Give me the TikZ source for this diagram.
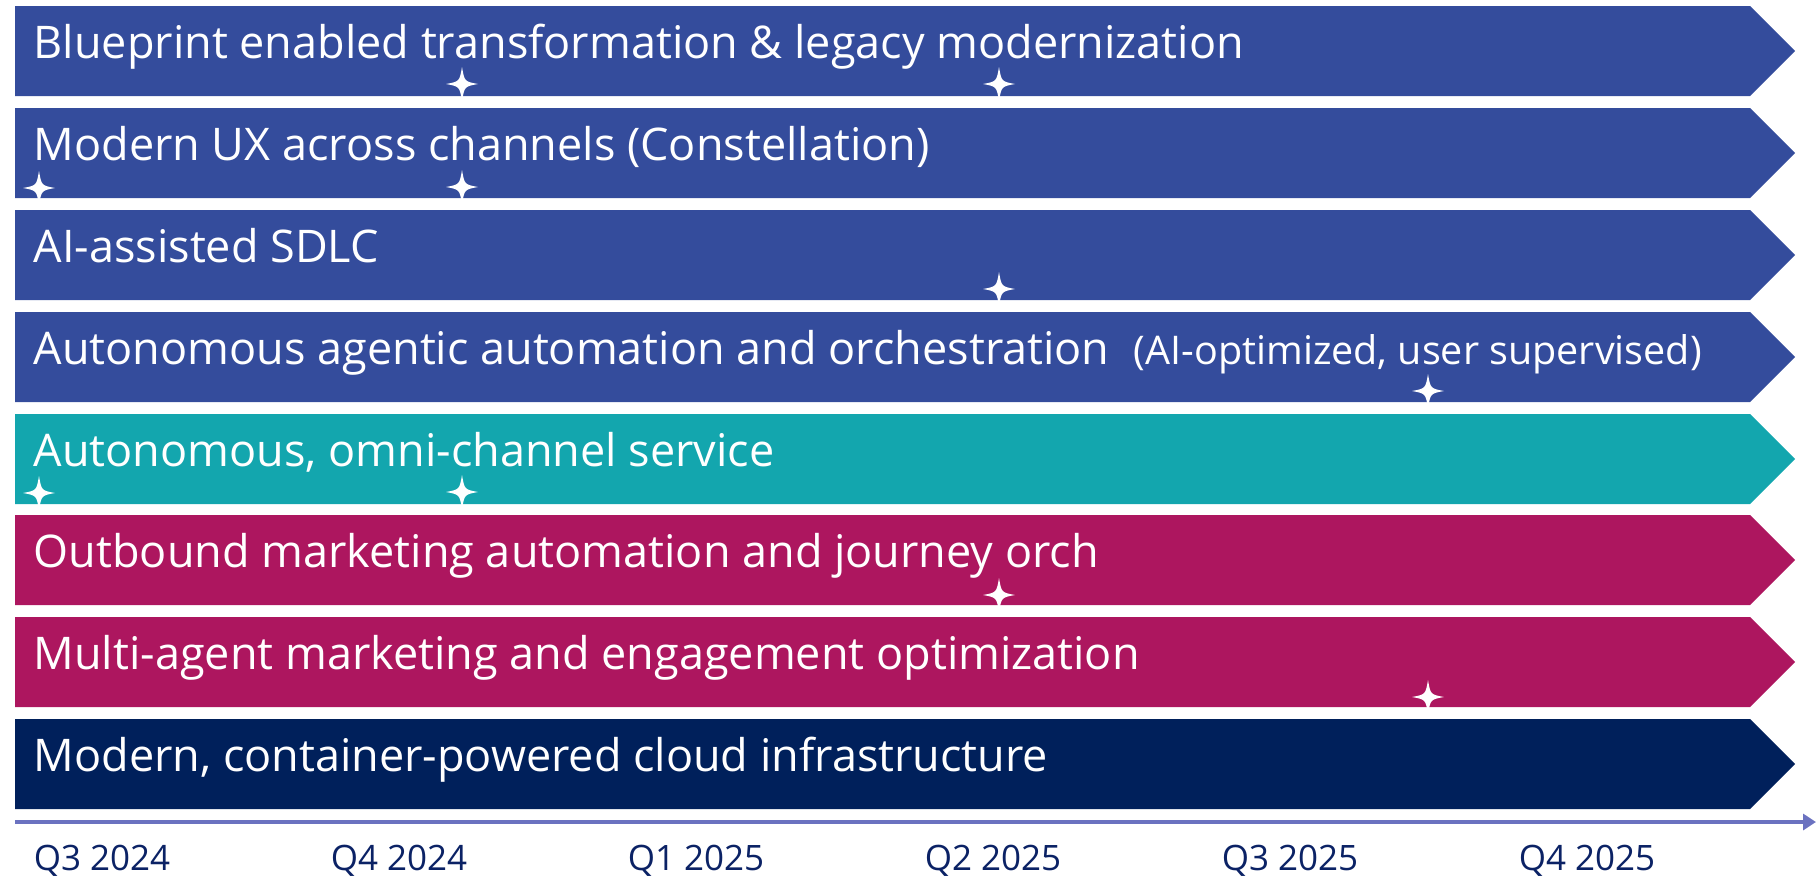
\documentclass[tikz,border=0pt]{standalone}
\usepackage{fontspec}
\setmainfont{Open Sans}
\usetikzlibrary{arrows.meta}
\definecolor{barblue}{HTML}{344C9C}
\definecolor{barteal}{HTML}{13A6AE}
\definecolor{barmag}{HTML}{AD165F}
\definecolor{barnavy}{HTML}{00205B}
\definecolor{axisc}{HTML}{6B72C0}
\definecolor{labc}{HTML}{0B2265}
\tikzset{
  bartext/.style={text=white, font=\fontsize{45}{54}\selectfont, anchor=base west, inner sep=0pt},
  subtext/.style={text=white, font=\fontsize{39.5}{47}\selectfont, anchor=base west, inner sep=0pt},
  qlabel/.style={text=labc, font=\fontsize{35}{42}\selectfont, anchor=base, inner sep=0pt},
  axisline/.style={draw=axisc, line width=4pt, -{Triangle[length=13pt,width=16pt]}},
  pics/sparkle/.style={code={
    \fill[white] (16,0) .. controls (2.5,2.5) .. (0,17) .. controls (-2.5,2.5) .. (-16,0)
      .. controls (-2.5,-2.5) .. (0,-17) .. controls (2.5,-2.5) .. (16,0) -- cycle;}}
}
\newcommand\roadbar[2]{\fill[#2] (15,{#1}) -- (1750,{#1}) -- (1795,{#1+45}) -- (1750,{#1+90}) -- (15,{#1+90}) -- cycle;}
\begin{document}
\begin{tikzpicture}[x=1pt,y=-1pt]
\useasboundingbox (0,0) rectangle (1816,878);
% bars
\roadbar{6}{barblue}
\roadbar{108}{barblue}
\roadbar{210}{barblue}
\roadbar{312}{barblue}
\roadbar{414}{barteal}
\roadbar{515}{barmag}
\roadbar{617}{barmag}
\roadbar{719}{barnavy}
% texts
\node[bartext] (t1) at (33.5,58) {Blueprint enabled transformation \& legacy modernization};
\node[bartext] (t2) at (33.5,160) {Modern UX across channels (Constellation)};
\node[bartext] (t3) at (33.5,262) {AI-assisted SDLC};
\node[bartext] (t4) at (33.5,364) {Autonomous agentic automation and orchestration};
\node[subtext, xshift=24pt] (t4b) at (t4.base east) {(AI-optimized, user supervised)};
\node[bartext] (t5) at (33.5,466) {Autonomous, omni-channel service};
\node[bartext] (t6) at (33.5,567) {Outbound marketing automation and journey orch};
\node[bartext] (t7) at (33.5,669) {Multi-agent marketing and engagement optimization};
\node[bartext] (t8) at (33.5,771) {Modern, container-powered cloud infrastructure};
% milestones
\pic at (462,84) {sparkle};
\pic at (999,84) {sparkle};
\pic at (39,188) {sparkle};
\pic at (462,187) {sparkle};
\pic at (999,289) {sparkle};
\pic at (1428,391) {sparkle};
\pic at (39,493) {sparkle};
\pic at (462,492) {sparkle};
\pic at (999,595) {sparkle};
\pic at (1428,697) {sparkle};
% axis
\coordinate (axs) at (15,822);
\coordinate (axe) at (1816,822);
\draw[axisline] (axs) -- (axe);
\node[qlabel] (q1) at (102,870) {Q3 2024};
\node[qlabel] (q2) at (399,870) {Q4 2024};
\node[qlabel] (q3) at (696,870) {Q1 2025};
\node[qlabel] (q4) at (993,870) {Q2 2025};
\node[qlabel] (q5) at (1290,870) {Q3 2025};
\node[qlabel] (q6) at (1587,870) {Q4 2025};
\end{tikzpicture}
\end{document}
